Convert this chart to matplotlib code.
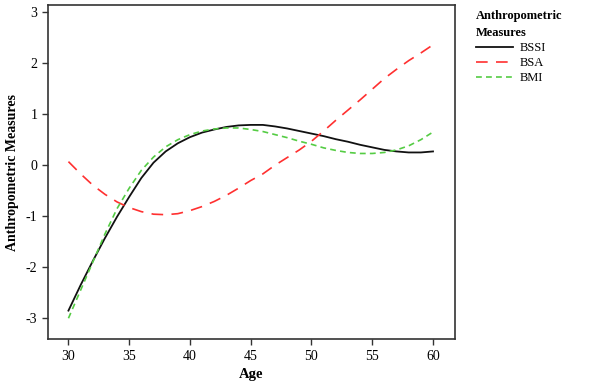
import matplotlib
matplotlib.use("Agg")
import matplotlib.pyplot as plt

plt.rcParams['font.family'] = ['Liberation Serif', 'DejaVu Serif']
plt.rcParams['axes.unicode_minus'] = False

age = list(range(30, 61))
bssi = [-2.85, -2.35, -1.88, -1.43, -1.01, -0.62, -0.25, 0.05, 0.27, 0.43, 0.55,
        0.64, 0.70, 0.75, 0.78, 0.79, 0.79, 0.76, 0.72, 0.67, 0.62, 0.57, 0.51,
        0.46, 0.40, 0.35, 0.30, 0.27, 0.25, 0.25, 0.27]
bsa = [0.07, -0.17, -0.39, -0.57, -0.72, -0.83, -0.91, -0.96, -0.97, -0.95, -0.89,
       -0.81, -0.71, -0.59, -0.45, -0.30, -0.17, 0.00, 0.15, 0.30, 0.47, 0.67,
       0.88, 1.08, 1.28, 1.49, 1.70, 1.88, 2.05, 2.20, 2.36]
bmi = [-3.00, -2.45, -1.90, -1.35, -0.85, -0.45, -0.10, 0.16, 0.36, 0.50, 0.60,
       0.67, 0.71, 0.73, 0.73, 0.70, 0.66, 0.60, 0.54, 0.47, 0.41, 0.34, 0.29,
       0.25, 0.23, 0.23, 0.25, 0.30, 0.38, 0.50, 0.65]
xticks = [30, 35, 40, 45, 50, 55, 60]
yticks = [-3, -2, -1, 0, 1, 2, 3]

fig = plt.figure(figsize=(5.9, 3.85), dpi=100)
ax = fig.add_axes([0.081, 0.119, 0.690, 0.868])

ax.plot(age, bssi, color='#111111', lw=1.3, ls='-', label='BSSI')
ax.plot(age, bsa, color='#ff3030', lw=1.2, ls=(0, (7, 5)), label='BSA')
ax.plot(age, bmi, color='#55cc44', lw=1.2, ls=(0, (3.5, 2.5)), label='BMI')

ax.set_xlim(28.3, 61.8)
ax.set_ylim(-3.41, 3.14)
ax.set_xticks(xticks)
ax.set_yticks(yticks)
ax.tick_params(direction='out', length=4, width=1, labelsize=10, color='#333333')
for s in ax.spines.values():
    s.set_linewidth(1.2)
    s.set_color('#333333')

ax.set_xlabel('Age', fontsize=10.5, fontweight='bold', labelpad=4)
ax.set_ylabel('Anthropometric Measures', fontsize=10, fontweight='bold')
ax.yaxis.set_label_coords(-0.071, 0.5)

leg = ax.legend(title='Anthropometric\nMeasures', loc='upper left',
                bbox_to_anchor=(1.03, 1.01), frameon=False, fontsize=9,
                handlelength=3.0, labelspacing=0.25, handletextpad=0.5,
                borderaxespad=0.3)
leg.get_title().set_fontweight('bold')
leg.get_title().set_fontsize(9)
leg.get_title().set_linespacing(1.5)
leg._legend_box.align = 'left'

fig.savefig('out.png', dpi=100)
